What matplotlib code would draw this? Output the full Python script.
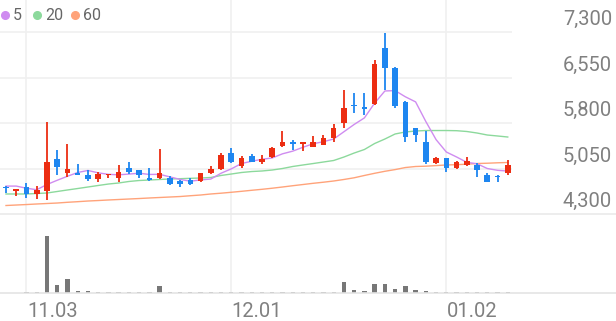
import matplotlib
matplotlib.use('Agg')
import matplotlib.pyplot as plt
import matplotlib.transforms as mtrans
from matplotlib.lines import Line2D
import numpy as np

# daily candles (price in KRW)
opens  = [4750, 4680, 4750, 4630, 4680, 5200, 4970, 4970, 4940, 4870,
          4940, 4890, 5060, 5020, 4900, 4890, 4900, 4840, 4860, 4840,
          4980, 5040, 5310, 5090, 5260, 5150, 5240, 5420, 5490, 5450,
          5410, 5440, 5550, 5800, 6100, 6070, 6110, 7030, 6710, 6150,
          5710, 5490, 5140, 5220, 5060, 5110, 5110, 4950, 4930, 4970]
highs  = [4755, 4710, 4810, 4760, 5810, 5350, 5460, 5120, 5020, 5000,
          4965, 5110, 5150, 5025, 5060, 5370, 4930, 4860, 4890, 4975,
          5090, 5310, 5390, 5250, 5290, 5270, 5410, 5670, 5520, 5485,
          5590, 5610, 5780, 6340, 6290, 6290, 6840, 7280, 6715, 6155,
          5715, 5670, 5235, 5225, 5170, 5240, 5136, 4970, 4935, 5190]
lows   = [4650, 4600, 4560, 4540, 4530, 4940, 4910, 4935, 4840, 4830,
          4890, 4830, 4960, 4890, 4850, 4880, 4780, 4750, 4785, 4835,
          4960, 5020, 5135, 5060, 5155, 5120, 5220, 5410, 5350, 5340,
          5405, 5430, 5480, 5710, 5960, 5930, 6100, 6340, 6040, 5490,
          5490, 5120, 5125, 5000, 5050, 5096, 4910, 4822, 4820, 4940]
closes = [4730, 4710, 4630, 4700, 5160, 5080, 5040, 4940, 4870, 4960,
          4960, 5000, 5000, 4940, 4860, 4970, 4790, 4790, 4790, 4970,
          5040, 5270, 5150, 5230, 5160, 5200, 5380, 5490, 5450, 5480,
          5490, 5550, 5710, 6050, 6080, 6030, 6770, 6710, 6080, 5570,
          5610, 5150, 5220, 5060, 5160, 5170, 5030, 4830, 4910, 5100]
volumes = [50, 50, 70, 70, 5700, 770, 1430, 170, 170, 70,
           70, 70, 70, 70, 70, 700, 70, 70, 70, 70,
           130, 70, 70, 70, 130, 70, 70, 70, 70, 70,
           70, 70, 100, 1100, 330, 170, 930, 930, 430, 700,
           270, 230, 130, 130, 70, 70, 70, 70, 70, 70]

# moving averages as drawn
ma5  = [4760, 4760, 4725, 4700, 4786, 4856, 4922, 4984, 5018, 4978,
        4954, 4946, 4958, 4972, 4952, 4954, 4912, 4870, 4840, 4862,
        4876, 4972, 5044, 5132, 5170, 5202, 5224, 5292, 5336, 5400,
        5458, 5492, 5536, 5656, 5776, 5884, 6128, 6328, 6334, 6232,
        6148, 5824, 5526, 5322, 5240, 5152, 5128, 5050, 5020, 5008]
ma20 = [4630, 4630, 4630, 4638, 4646, 4671, 4696, 4720, 4745, 4770,
        4794, 4811, 4836, 4852, 4860, 4869, 4877, 4882, 4888, 4893,
        4902, 4935, 4959, 4984, 5000, 5009, 5025, 5050, 5083, 5108,
        5132, 5157, 5182, 5239, 5305, 5363, 5462, 5536, 5619, 5652,
        5668, 5676, 5676, 5676, 5673, 5660, 5635, 5602, 5586, 5569]
ma60 = [4440, 4448, 4456, 4465, 4473, 4481, 4493, 4503, 4514, 4522,
        4531, 4539, 4547, 4555, 4564, 4572, 4580, 4588, 4601, 4613,
        4630, 4643, 4658, 4674, 4691, 4707, 4725, 4745, 4766, 4786,
        4806, 4824, 4844, 4869, 4897, 4935, 4971, 5004, 5032, 5066,
        5083, 5088, 5098, 5108, 5113, 5121, 5132, 5137, 5144, 5149]

price_ticks = [4300, 5050, 5800, 6550, 7300]
date_idx = [2, 22, 43]
date_labels = ['11.03', '12.01', '01.02']
ma_names = ['5', '20', '60']

RED = '#ec2d12'
BLUE = '#1e86f0'
MA_COLORS = ['#cf8cf0', '#8cd99c', '#ffa37a']
TXT = '#808080'
GRID = '#f0f0f0'

W, H = 616, 321
fig = plt.figure(figsize=(W/100, H/100), dpi=100)
fig.patch.set_facecolor('white')

def fy(px):  # pixel-from-top -> figure fraction
  return 1 - px/H

x = np.arange(len(closes))
x0 = -6/10.24
x1 = (512-6)/10.24

ax = fig.add_axes([0, fy(214), 512/W, 214/H])
axv = fig.add_axes([0, fy(293), 512/W, (293-214)/H])
for a in (ax, axv):
  a.set_xlim(x0, x1)
  a.axis('off')
ax.set_ylim(4300, 7300 + 32*3000/182)
axv.set_ylim(0, max(volumes)*79/57)

# grid
for p in price_ticks[1:]:
  ax.axhline(p, color=GRID, lw=1.2, zorder=0)
for d in date_idx:
  ax.axvline(d, color=GRID, lw=1.2, zorder=0)
  axv.axvline(d, color=GRID, lw=1.2, zorder=0)
fig.add_artist(Line2D([0, 1], [fy(214), fy(214)], color='#eaeaea', lw=1.2))
fig.add_artist(Line2D([0, 1], [fy(293), fy(293)], color='#e4e4e4', lw=1.2))

# moving averages
for vals, c in zip([ma60, ma20, ma5], MA_COLORS[::-1]):
  ax.plot(x, vals, color=c, lw=1.0, zorder=2)

# candles
o = np.array(opens); c = np.array(closes)
cols = [RED if cc >= oo else BLUE for oo, cc in zip(o, c)]
ax.vlines(x, lows, highs, colors=cols, lw=1.3, zorder=3)
body = np.maximum(np.abs(c - o), 22)
bottom = np.minimum(o, c)
ax.bar(x, body, bottom=bottom, width=0.55, color=cols, zorder=4)

# volume
axv.bar(x, volumes, width=0.42, color='#777777', zorder=2)

# price labels
tr = mtrans.offset_copy(mtrans.blended_transform_factory(fig.transFigure, ax.transData),
                        fig=fig, x=0, y=7, units='dots')
for p in price_ticks:
  ax.text(612/W, p, '{:,}'.format(p), transform=tr, ha='right', va='baseline',
          fontsize=14.5, color=TXT, family='Roboto')

# date labels
trx = mtrans.blended_transform_factory(axv.transData, fig.transFigure)
for d, lab in zip(date_idx, date_labels):
  axv.text(d + 0.05, fy(317), lab, transform=trx, ha='left', va='baseline',
           fontsize=14.5, color=TXT, family='Roboto')

# legend
dot_x = [5, 37, 75]
for dx, name, col in zip(dot_x, ma_names, MA_COLORS):
  fig.add_artist(Line2D([dx/W], [fy(15)], marker='o', markersize=5.5,
                        color=col, lw=0))
  fig.text((dx + 8)/W, fy(15), name, ha='left', va='center',
           fontsize=11.5, color='#666666', family='Roboto')

fig.savefig('out.png', dpi=100, facecolor='white')
